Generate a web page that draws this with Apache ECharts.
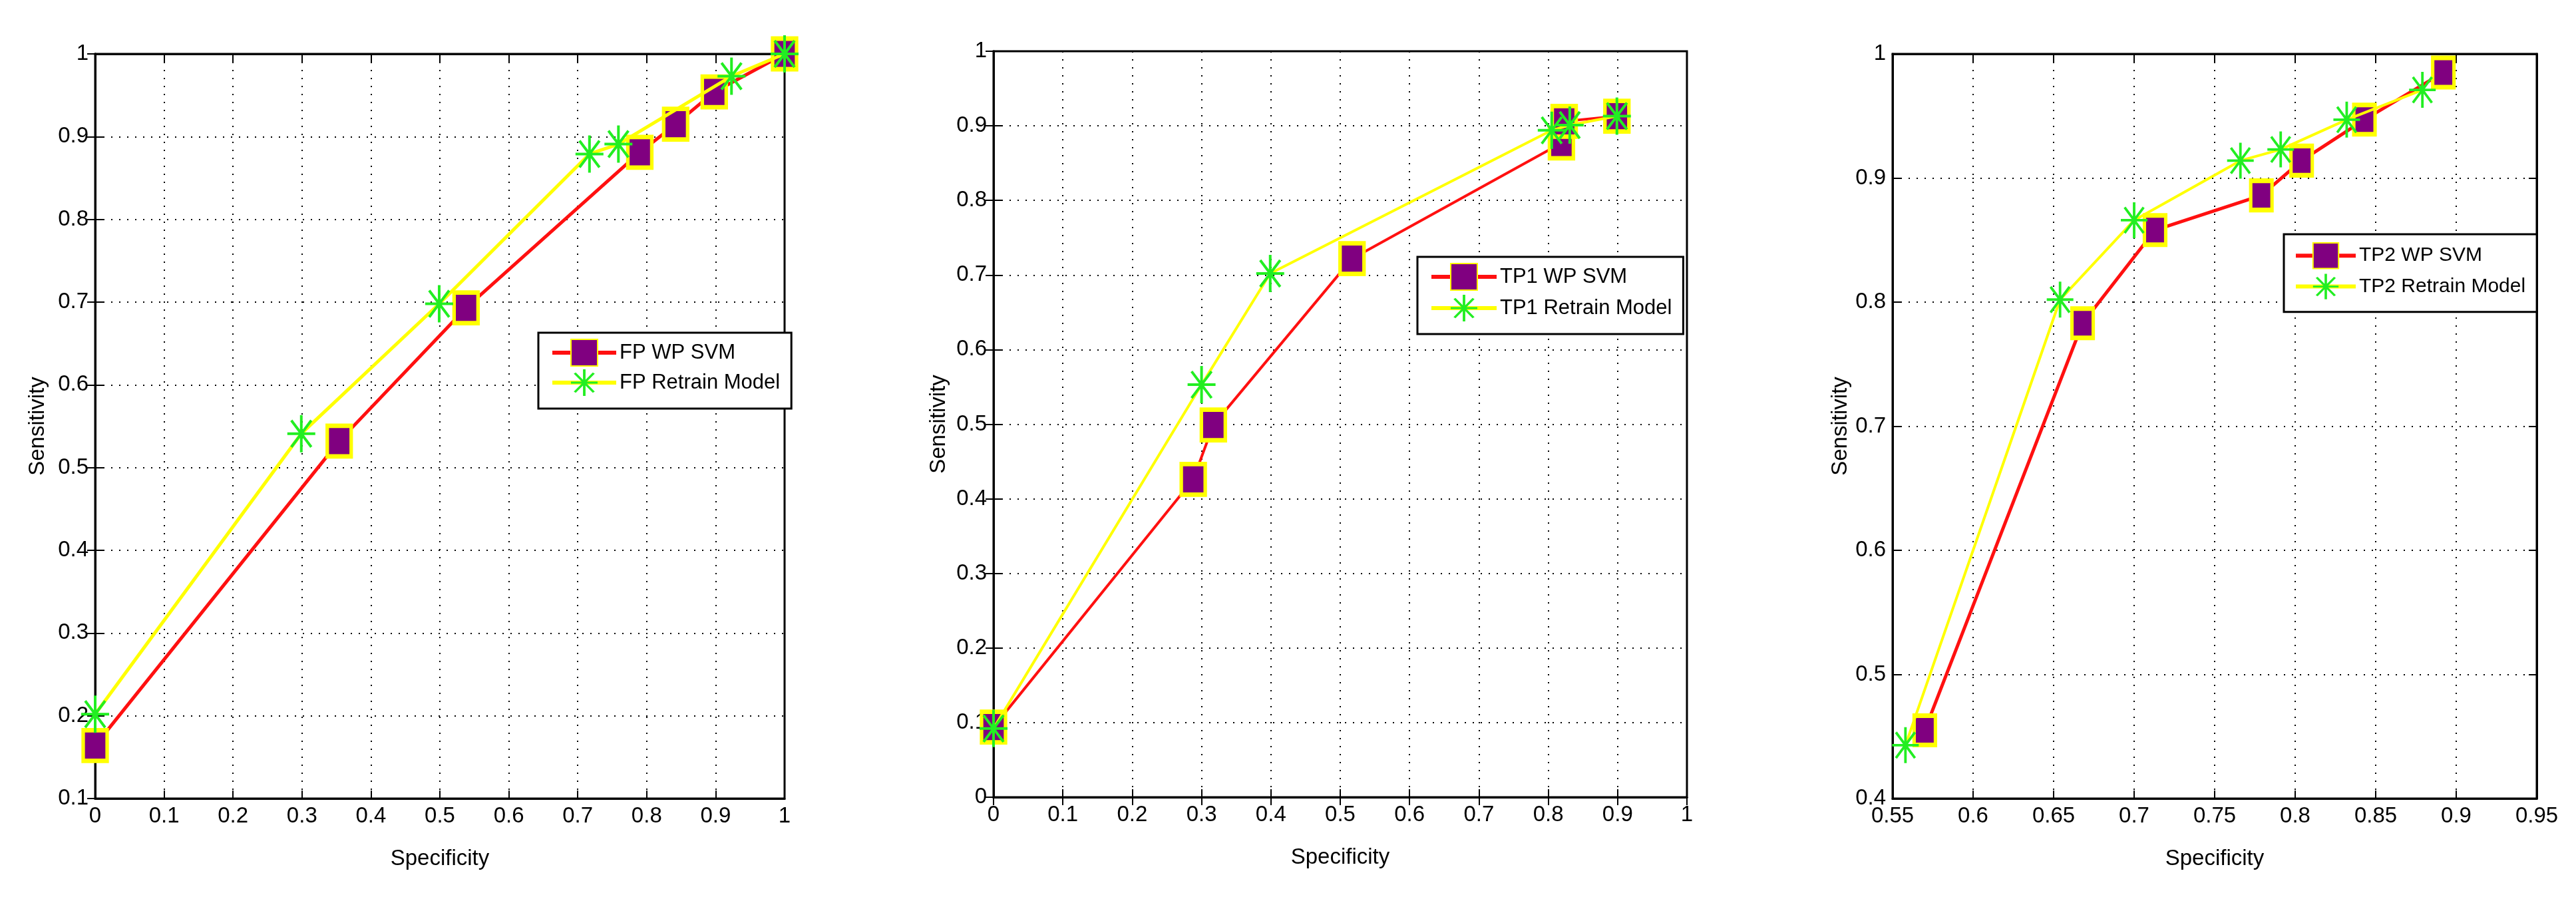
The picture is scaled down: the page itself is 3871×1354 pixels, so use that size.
<!DOCTYPE html>
<html>
<head>
<meta charset="utf-8">
<script src="https://cdn.jsdelivr.net/npm/echarts@6/dist/echarts.min.js"></script>
<style>
html,body{margin:0;padding:0;background:#fff;}
#chart{width:3871px;height:1354px;}
</style>
</head>
<body>
<div id="chart"></div>
<script>
// ---- data ----
const fpSvmX = [0, 0.354, 0.538, 0.790, 0.842, 0.898, 1];
const fpSvmY = [0.164, 0.532, 0.693, 0.881, 0.915, 0.954, 1];
const fpRetX = [0, 0.299, 0.499, 0.717, 0.759, 0.923, 1];
const fpRetY = [0.202, 0.541, 0.698, 0.879, 0.891, 0.973, 1];

const tp1SvmX = [0, 0.288, 0.317, 0.517, 0.819, 0.823, 0.899];
const tp1SvmY = [0.094, 0.426, 0.499, 0.722, 0.877, 0.906, 0.913];
const tp1RetX = [0, 0.300, 0.399, 0.805, 0.831, 0.899];
const tp1RetY = [0.092, 0.553, 0.702, 0.894, 0.901, 0.913];

const tp2SvmX = [0.570, 0.668, 0.713, 0.779, 0.804, 0.843, 0.892];
const tp2SvmY = [0.455, 0.783, 0.858, 0.886, 0.914, 0.947, 0.985];
const tp2RetX = [0.558, 0.654, 0.700, 0.766, 0.791, 0.832, 0.879];
const tp2RetY = [0.443, 0.802, 0.866, 0.914, 0.923, 0.947, 0.971];

const seriesNames = [
  ['FP WP SVM', 'FP Retrain Model'],
  ['TP1 WP SVM', 'TP1 Retrain Model'],
  ['TP2 WP SVM', 'TP2 Retrain Model']
];
const xRanges = [[0, 1, 0.1], [0, 1, 0.1], [0.55, 0.95, 0.05]];
const yRanges = [[0.1, 1, 0.1], [0, 1, 0.1], [0.4, 1, 0.1]];
const xTitle = 'Specificity';
const yTitle = 'Sensitivity';

// ---- styling ----
const FONT = '"Liberation Sans", Arial, Helvetica, sans-serif';
const STAR = 'path://M-2,-28 L2,-28 L2,28 L-2,28 Z M-21,-2 L21,-2 L21,2 L-21,2 Z ' +
  'M13.4,21.2 L-16.6,-18.8 L-13.4,-21.2 L16.6,18.8 Z ' +
  'M-13.4,21.2 L-16.6,18.8 L13.4,-21.2 L16.6,-18.8 Z';

const grids = [
  {left: 143, top: 81, width: 1036, height: 1119},
  {left: 1493, top: 77, width: 1042, height: 1121},
  {left: 2844, top: 81, width: 968, height: 1119}
];
const yNameGaps = [70, 66, 62];
const legendPos = [
  {left: 809, top: 500, itemWidth: 96, itemHeight: 50, itemGap: 4, padding: [9, 17, 19, 18], fontSize: 31},
  {left: 2130, top: 386, itemWidth: 98, itemHeight: 50, itemGap: 6, padding: [9, 17, 19, 18], fontSize: 31},
  {left: 3432, top: 352, itemWidth: 90, itemHeight: 48, itemGap: 7, padding: [12, 17, 19, 15], fontSize: 30}
];
const squareSizes = [[36, 46], [36, 46], [32, 44]];
const starSizes = [[42, 56], [42, 56], [40, 54]];
const redWidths = [5, 4, 5];
const yelWidths = [5, 4, 4];

const xAxes = [], yAxes = [], series = [], legends = [];
const dataSets = [
  [[fpSvmX, fpSvmY], [fpRetX, fpRetY]],
  [[tp1SvmX, tp1SvmY], [tp1RetX, tp1RetY]],
  [[tp2SvmX, tp2SvmY], [tp2RetX, tp2RetY]]
];

const labelStyle = {color: '#000', fontSize: 33, fontFamily: FONT};

for (let i = 0; i < 3; i++) {
  const [xmin, xmax, xint] = xRanges[i];
  const [ymin, ymax, yint] = yRanges[i];
  xAxes.push({
    type: 'value', gridIndex: i, position: 'bottom', min: xmin, max: xmax, interval: xint,
    name: xTitle, nameLocation: 'middle', nameGap: 74,
    nameTextStyle: {color: '#000', fontSize: 33, fontFamily: FONT},
    axisLine: {show: true, lineStyle: {color: '#000', width: 3}},
    axisTick: {show: true, inside: true, length: 12, lineStyle: {color: '#000', width: 2}},
    axisLabel: Object.assign({margin: 10}, labelStyle),
    splitLine: {show: true, lineStyle: {color: '#000', width: 2, type: [2, 10]}}
  });
  xAxes.push({
    type: 'value', gridIndex: i, position: 'top', min: xmin, max: xmax, interval: xint,
    axisLine: {show: true, lineStyle: {color: '#000', width: 3}},
    axisTick: {show: true, inside: true, length: 12, lineStyle: {color: '#000', width: 2}},
    axisLabel: {show: false}, splitLine: {show: false}
  });
  yAxes.push({
    type: 'value', gridIndex: i, position: 'left', min: ymin, max: ymax, interval: yint,
    name: yTitle, nameLocation: 'middle', nameGap: yNameGaps[i], nameRotate: 90,
    nameTextStyle: {color: '#000', fontSize: 33, fontFamily: FONT},
    axisLine: {show: true, lineStyle: {color: '#000', width: 3}},
    axisTick: {show: true, inside: true, length: 12, lineStyle: {color: '#000', width: 2}},
    axisLabel: Object.assign({margin: 10}, labelStyle),
    splitLine: {show: true, lineStyle: {color: '#000', width: 2, type: [2, 10]}}
  });
  yAxes.push({
    type: 'value', gridIndex: i, position: 'right', min: ymin, max: ymax, interval: yint,
    axisLine: {show: true, lineStyle: {color: '#000', width: 3}},
    axisTick: {show: true, inside: true, length: 12, lineStyle: {color: '#000', width: 2}},
    axisLabel: {show: false}, splitLine: {show: false}
  });

  const [svm, ret] = dataSets[i];
  series.push({
    type: 'line', name: seriesNames[i][0], xAxisIndex: 2 * i, yAxisIndex: 2 * i,
    data: svm[0].map((x, k) => [x, svm[1][k]]),
    clip: false, z: 3,
    symbol: 'rect', symbolSize: squareSizes[i],
    lineStyle: {color: '#ff1010', width: redWidths[i]},
    itemStyle: {color: '#800080', borderColor: '#ffff00', borderWidth: 6},
    emphasis: {disabled: true}, animation: false
  });
  series.push({
    type: 'line', name: seriesNames[i][1], xAxisIndex: 2 * i, yAxisIndex: 2 * i,
    data: ret[0].map((x, k) => [x, ret[1][k]]),
    clip: false, z: 4,
    symbol: STAR, symbolSize: starSizes[i],
    lineStyle: {color: '#ffff00', width: yelWidths[i]},
    itemStyle: {color: '#22ee22', borderWidth: 0},
    emphasis: {disabled: true}, animation: false
  });

  const lp = legendPos[i];
  legends.push({
    data: seriesNames[i], orient: 'vertical', left: lp.left, top: lp.top,
    itemWidth: lp.itemWidth, itemHeight: lp.itemHeight, itemGap: lp.itemGap,
    padding: lp.padding, borderColor: '#000', borderWidth: 3, borderRadius: 0,
    backgroundColor: '#fff', selectedMode: false,
    lineStyle: {width: 6},
    textStyle: {color: '#000', fontSize: lp.fontSize, fontFamily: FONT}
  });
}

const chart = echarts.init(document.getElementById('chart'), null, {renderer: 'canvas'});
chart.setOption({
  backgroundColor: '#fff',
  animation: false,
  grid: grids.map(g => Object.assign({show: true, borderColor: '#000', borderWidth: 3, backgroundColor: '#fff'}, g)),
  xAxis: xAxes,
  yAxis: yAxes,
  legend: legends,
  series: series
});
</script>
</body>
</html>
